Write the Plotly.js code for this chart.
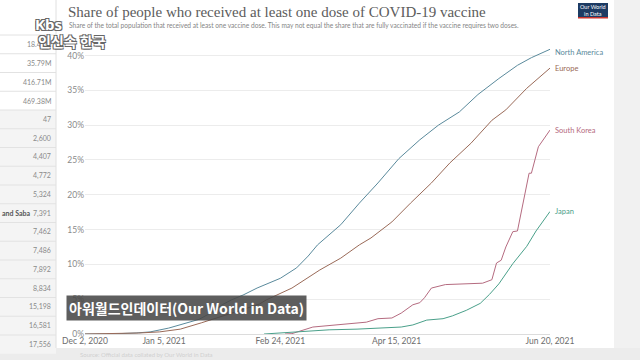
<!DOCTYPE html>
<html>
<head>
<meta charset="utf-8">
<script src="https://cdn.plot.ly/plotly-3.0.1.min.js"></script>
<style>
  html, body { margin: 0; padding: 0; background: #ffffff; }
  #chart { width: 640px; height: 360px; }
</style>
</head>
<body>
<div id="chart"></div>
<script>
// ---------------- DATA ----------------
const seriesNames = ["North America", "Europe", "South Korea", "Japan"];

const naDates  = ["2020-12-02","2020-12-14","2020-12-24","2020-12-30","2021-01-07","2021-01-15","2021-01-20","2021-01-25","2021-01-30","2021-02-03","2021-02-08","2021-02-14","2021-02-24","2021-03-03","2021-03-08","2021-03-12","2021-03-17","2021-03-22","2021-03-30","2021-04-07","2021-04-16","2021-04-25","2021-05-03","2021-05-12","2021-05-20","2021-05-29","2021-06-06","2021-06-12","2021-06-20"];
const naValues = [0, 0.02, 0.15, 0.3, 0.85, 1.6, 2.1, 3.0, 4.2, 4.9, 5.6, 6.6, 8.0, 9.5, 11.2, 12.8, 14.3, 15.7, 18.8, 21.7, 25.2, 27.9, 30.0, 31.9, 34.4, 36.7, 38.6, 39.7, 40.9];

const euDates  = ["2020-12-02","2020-12-08","2020-12-25","2021-01-03","2021-01-12","2021-01-21","2021-01-28","2021-02-05","2021-02-15","2021-02-18","2021-03-01","2021-03-05","2021-03-13","2021-03-22","2021-03-30","2021-04-04","2021-04-13","2021-04-21","2021-04-30","2021-05-08","2021-05-17","2021-05-26","2021-06-01","2021-06-10","2021-06-20"];
const euValues = [0, 0.01, 0.14, 0.3, 0.7, 1.6, 2.3, 3.2, 4.3, 4.9, 6.6, 7.5, 9.2, 10.9, 12.8, 13.8, 16.1, 18.8, 21.7, 24.6, 27.4, 30.7, 32.2, 35.3, 38.2];

const krDates  = ["2021-02-26","2021-03-01","2021-03-10","2021-03-23","2021-04-02","2021-04-07","2021-04-13","2021-04-17","2021-04-22","2021-04-25","2021-04-27","2021-04-30","2021-05-06","2021-05-22","2021-05-26","2021-05-28","2021-05-30","2021-06-01","2021-06-04","2021-06-06","2021-06-11","2021-06-12","2021-06-15","2021-06-20"];
const krValues = [0, 0.05, 1.0, 1.4, 1.7, 2.2, 2.3, 3.0, 4.2, 4.5, 5.2, 6.6, 7.1, 7.3, 7.8, 10.2, 10.6, 12.5, 14.7, 14.8, 23.1, 23.1, 26.9, 29.3];

const jpDates  = ["2021-02-17","2021-03-17","2021-03-29","2021-04-07","2021-04-17","2021-04-22","2021-04-28","2021-05-05","2021-05-09","2021-05-15","2021-05-21","2021-05-25","2021-05-29","2021-06-04","2021-06-10","2021-06-14","2021-06-20"];
const jpValues = [0, 0.6, 0.7, 0.8, 1.0, 1.3, 2.0, 2.2, 2.6, 3.4, 4.4, 5.7, 7.2, 10.1, 12.6, 14.8, 17.6];

const xTickDates  = ["2020-12-02","2021-01-05","2021-02-24","2021-04-15","2021-06-20"];
const xTickLabels = ["Dec 2, 2020","Jan 5, 2021","Feb 24, 2021","Apr 15, 2021","Jun 20, 2021"];
const yTickValues = [0, 5, 10, 15, 20, 25, 30, 35, 40];
const yTickLabels = ["0%", "5%", "10%", "15%", "20%", "25%", "30%", "35%", "40%"];

const tableValues = ["18.44M","35.79M","416.71M","469.38M","47","2,600","4,407","4,772","5,324","7,391","7,462","7,486","7,892","8,834","15,198","16,581","17,556"];
const tableRowLabel = "and Saba";

const titleText = "Share of people who received at least one dose of COVID-19 vaccine";
const subtitleText = "Share of the total population that received at least one vaccine dose. This may not equal the share that are fully vaccinated if the vaccine requires two doses.";
const captionText = "아워월드인데이터(Our World in Data)";
const logoTop = "Kbs";
const logoBottom = "인신속 한국";

// ---------------- STYLE ----------------
const colors = ["#5a8a9c", "#9a6a58", "#b56b80", "#4aa08a"];
const W = 640, H = 360;
const M = {l: 85, r: 90, t: 42, b: 26};
const PW = W - M.l - M.r, PH = H - M.t - M.b;
const px = X => (X - M.l) / PW;
const py = Y => (H - M.b - Y) / PH;

const allDates = [naDates, euDates, krDates, jpDates];
const allValues = [naValues, euValues, krValues, jpValues];

const traces = seriesNames.map((n, i) => ({
  type: "scatter", mode: "lines", name: n,
  x: allDates[i], y: allValues[i],
  line: {color: colors[i], width: 1},
  hoverinfo: "skip"
}));

const shapes = [];
const annotations = [];

// background panels
shapes.push({type: "rect", xref: "paper", yref: "paper", x0: px(614), x1: px(641), y0: py(-1), y1: py(361), fillcolor: "#f1f1f1", line: {width: 0}, layer: "below"});
shapes.push({type: "rect", xref: "paper", yref: "paper", x0: px(-1), x1: px(641), y0: py(348), y1: py(361), fillcolor: "#ececec", line: {width: 0}, layer: "below"});
shapes.push({type: "rect", xref: "paper", yref: "paper", x0: px(-1), x1: px(56), y0: py(-1), y1: py(348), fillcolor: "#ffffff", line: {width: 0}, layer: "below"});

// left table
const rowH = 18.75, rowTop = 35;
tableValues.forEach((v, i) => {
  const yc = rowTop + rowH * (i + 0.5);
  if (i >= 4) {
    shapes.push({type: "rect", xref: "paper", yref: "paper", x0: px(-1), x1: px(56), y0: py(rowTop + rowH * (i + 1)), y1: py(rowTop + rowH * i), fillcolor: "#f4f4f4", line: {width: 0}, layer: "below"});
  }
  shapes.push({type: "line", xref: "paper", yref: "paper", x0: px(-1), x1: px(56), y0: py(rowTop + rowH * i), y1: py(rowTop + rowH * i), line: {color: "#e2e2e2", width: 1}});
  annotations.push({xref: "paper", yref: "paper", x: px(53), y: py(yc), xanchor: "right", yanchor: "middle", text: v, showarrow: false, font: {family: "Lato", size: 7, color: "#8a8a8a"}});
});
annotations.push({xref: "paper", yref: "paper", x: px(0), y: py(rowTop + rowH * 9.5), xanchor: "left", yanchor: "middle", text: "<b>" + tableRowLabel + "</b>", showarrow: false, font: {family: "Lato", size: 7, color: "#555555"}});
shapes.push({type: "line", xref: "paper", yref: "paper", x0: px(56), x1: px(56), y0: py(0), y1: py(348), line: {color: "#e0e0e0", width: 1}});

// title & subtitle
annotations.push({xref: "paper", yref: "paper", x: px(66), y: py(12), xanchor: "left", yanchor: "middle", text: titleText, showarrow: false, font: {family: "Liberation Serif", size: 15, color: "#5c5c5c"}});
annotations.push({xref: "paper", yref: "paper", x: px(67), y: py(25), xanchor: "left", yanchor: "middle", text: subtitleText, showarrow: false, font: {family: "Lato", size: 6.6, color: "#858585"}});

// OWID logo
shapes.push({type: "rect", xref: "paper", yref: "paper", x0: px(578), x1: px(608), y0: py(17), y1: py(3), fillcolor: "#1d3b63", line: {width: 0}});
shapes.push({type: "rect", xref: "paper", yref: "paper", x0: px(578), x1: px(608), y0: py(18.5), y1: py(17), fillcolor: "#c9352e", line: {width: 0}});
annotations.push({xref: "paper", yref: "paper", x: px(593), y: py(10), xanchor: "center", yanchor: "middle", text: "Our World<br>in Data", showarrow: false, font: {family: "Lato", size: 5.5, color: "#ffffff"}});

// line end labels
const endLabelY = [52, 68, 130, 211];
seriesNames.forEach((n, i) => {
  annotations.push({xref: "paper", yref: "paper", x: px(553), y: py(endLabelY[i]), xanchor: "left", yanchor: "middle", text: n, showarrow: false, font: {family: "Lato", size: 7.5, color: colors[i]}});
});

// caption overlay
annotations.push({xref: "paper", yref: "paper", x: px(186), y: py(308), xanchor: "center", yanchor: "middle", text: "<b>" + captionText + "</b>", showarrow: false, bgcolor: "rgba(72,72,72,0.88)", borderpad: 2, font: {family: "Noto Sans CJK KR", size: 14, color: "#ffffff"}});

// broadcaster logo
const outline = "1px 1px 0 #666, -1px -1px 0 #666, 1px -1px 0 #666, -1px 1px 0 #666";
annotations.push({xref: "paper", yref: "paper", x: px(33), y: py(24), xanchor: "left", yanchor: "middle", text: "<b>" + logoTop + "</b>", showarrow: false, font: {family: "Noto Sans", size: 15, color: "#ffffff", shadow: outline}});
annotations.push({xref: "paper", yref: "paper", x: px(36), y: py(41), xanchor: "left", yanchor: "middle", text: "<b>" + logoBottom + "</b>", showarrow: false, font: {family: "Noto Sans CJK KR", size: 14, color: "#ffffff", shadow: outline}});

// bottom strip faint text
annotations.push({xref: "paper", yref: "paper", x: px(78), y: py(354), xanchor: "left", yanchor: "middle", text: "Source: Official data collated by Our World in Data", showarrow: false, font: {family: "Lato", size: 6, color: "#d0d0d0"}});

const layout = {
  width: W, height: H,
  margin: M,
  paper_bgcolor: "#ffffff", plot_bgcolor: "#ffffff",
  showlegend: false,
  xaxis: {
    type: "date", range: ["2020-12-02", "2021-06-20"],
    tickvals: xTickDates, ticktext: xTickLabels,
    showgrid: false, zeroline: false, showline: false, ticks: "",
    tickfont: {family: "Lato", size: 8.5, color: "#6d6d6d"},
    fixedrange: true
  },
  yaxis: {
    range: [0, 41.95], tickmode: "array", tickvals: yTickValues, ticktext: yTickLabels,
    showgrid: true, gridcolor: "#ececec", gridwidth: 1,
    zeroline: true, zerolinecolor: "#dcdcdc", zerolinewidth: 1,
    showline: false, ticks: "",
    tickfont: {family: "Lato", size: 8.5, color: "#8a8a8a"},
    fixedrange: true
  },
  shapes: shapes,
  annotations: annotations
};

Plotly.newPlot("chart", traces, layout, {displayModeBar: false, staticPlot: true});
</script>
</body>
</html>
